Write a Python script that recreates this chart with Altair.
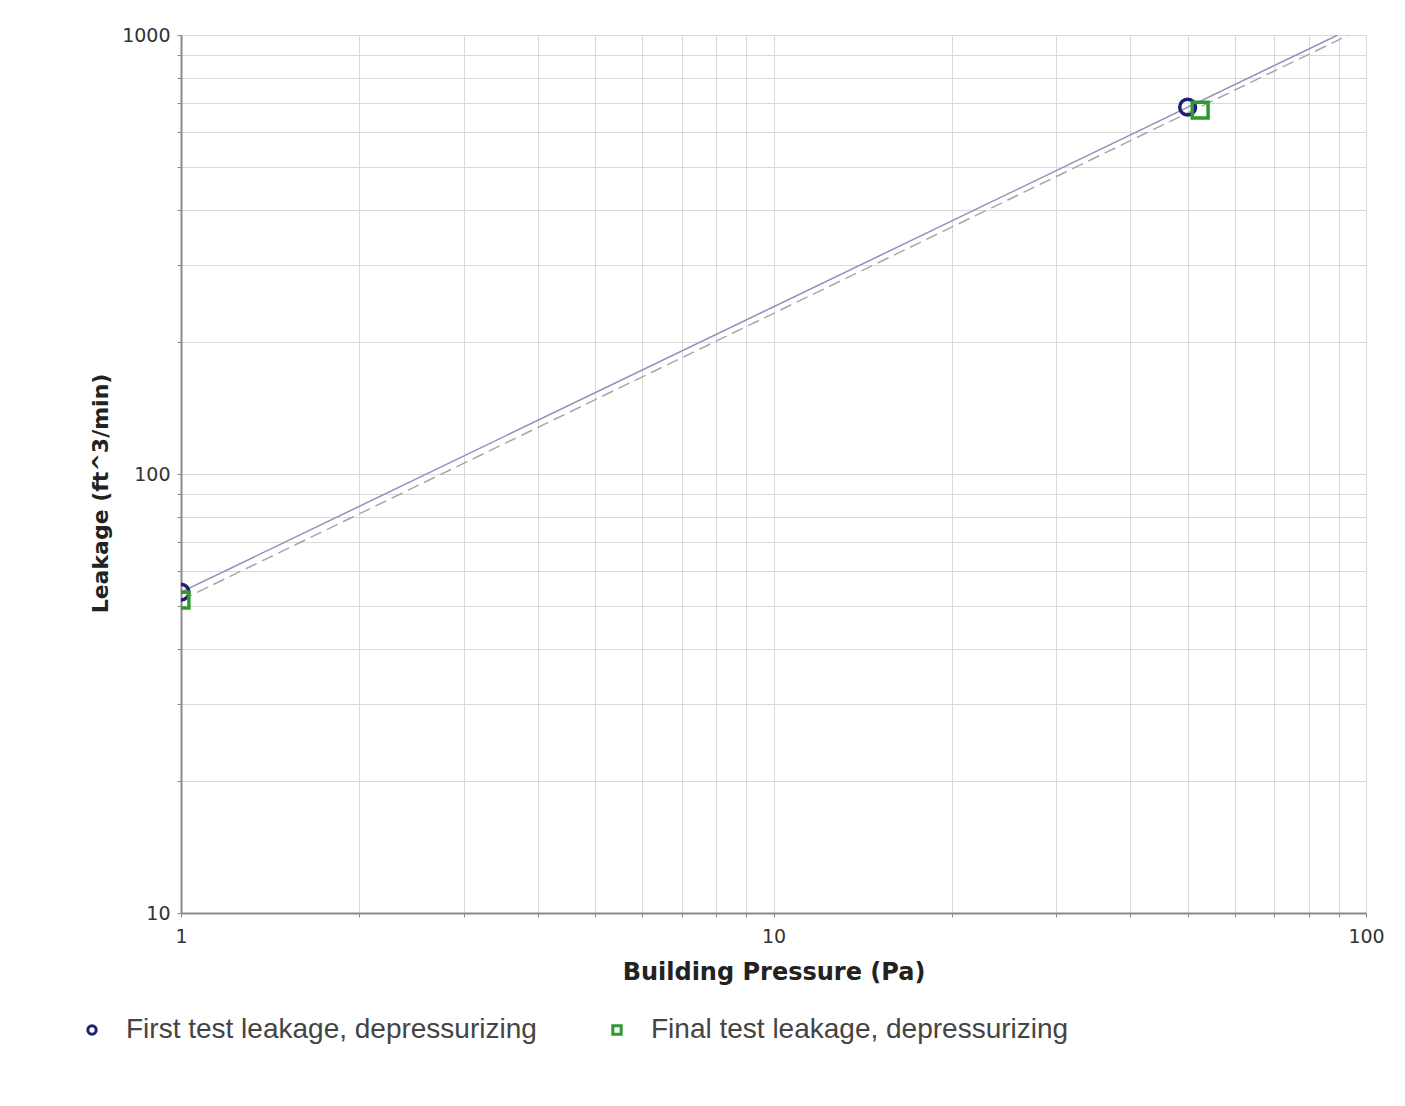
import altair as alt
import pandas as pd

# ---- data ----
series_names = ["First test leakage, depressurizing", "Final test leakage, depressurizing"]
first_pressure = [1, 50]
first_leakage = [53.8, 685]
final_pressure = [1, 52.5]
final_leakage = [51.6, 674]
first_fit_pressure = [1, 89.6]
first_fit_leakage = [53.8, 1000]
final_fit_pressure = [1, 93.5]
final_fit_leakage = [51.6, 1000]

x_grid = [1, 2, 3, 4, 5, 6, 7, 8, 9, 10, 20, 30, 40, 50, 60, 70, 80, 90, 100]
y_grid = [10, 20, 30, 40, 50, 60, 70, 80, 90, 100, 200, 300, 400, 500, 600, 700, 800, 900, 1000]

colors = ["#1f1f7a", "#2e9a2e"]
shapes = ["circle", "square"]

points = pd.DataFrame({
    "pressure": first_pressure + final_pressure,
    "leakage": first_leakage + final_leakage,
    "series": [series_names[0]] * len(first_pressure) + [series_names[1]] * len(final_pressure),
})
fit_first = pd.DataFrame({"pressure": first_fit_pressure, "leakage": first_fit_leakage})
fit_final = pd.DataFrame({"pressure": final_fit_pressure, "leakage": final_fit_leakage})

xscale = alt.Scale(type="log", domain=[1, 100], nice=False)
yscale = alt.Scale(type="log", domain=[10, 1000], nice=False)

xaxis = alt.Axis(
    title="Building Pressure (Pa)", values=x_grid, format="d",
    labelExpr="(datum.value == 1 || datum.value == 10 || datum.value == 100) ? datum.label : ''",
    grid=True, gridColor="#d9d9d9", gridWidth=1,
    domainColor="#8a8a8a", domainWidth=2, tickColor="#8a8a8a", tickSize=4,
    labelFont="DejaVu Sans", labelFontSize=19, labelColor="#333333", labelPadding=10,
    labelFlush=False, labelOverlap=False,
    titleFont="DejaVu Sans", titleFontSize=24, titleFontWeight="bold", titleColor="#222222",
    titlePadding=14,
)
yaxis = alt.Axis(
    title="Leakage (ft^3/min)", values=y_grid, format="d",
    labelExpr="(datum.value == 10 || datum.value == 100 || datum.value == 1000) ? datum.label : ''",
    grid=True, gridColor="#d9d9d9", gridWidth=1,
    domainColor="#8a8a8a", domainWidth=2, tickColor="#8a8a8a", tickSize=4,
    labelFont="DejaVu Sans", labelFontSize=19, labelColor="#333333", labelPadding=7,
    labelFlush=False, labelOverlap=False,
    titleFont="DejaVu Sans", titleFontSize=22, titleFontWeight="bold", titleColor="#222222",
    titlePadding=9, titleY=458,
)

line_first = alt.Chart(fit_first).mark_line(color="#8f92bd", strokeWidth=1.5, clip=True).encode(
    x=alt.X("pressure:Q", scale=xscale, axis=xaxis),
    y=alt.Y("leakage:Q", scale=yscale, axis=yaxis),
)
line_final = alt.Chart(fit_final).mark_line(color="#a3aaa3", strokeWidth=1.5, strokeDash=[12, 6], clip=True).encode(
    x=alt.X("pressure:Q", scale=xscale),
    y=alt.Y("leakage:Q", scale=yscale),
)

legend = alt.Legend(
    title=None, orient="none", legendX=-103, legendY=981, direction="horizontal", columns=2,
    labelFont="Liberation Sans", labelFontSize=28, labelColor="#444444", labelLimit=600,
    symbolSize=70, symbolStrokeWidth=3, labelOffset=20, columnPadding=66,
)
pts = alt.Chart(points).mark_point(filled=False, strokeWidth=3.5, size=250, clip=True, opacity=1).encode(
    x=alt.X("pressure:Q", scale=xscale),
    y=alt.Y("leakage:Q", scale=yscale),
    color=alt.Color("series:N", scale=alt.Scale(domain=series_names, range=colors), legend=legend),
    shape=alt.Shape("series:N", scale=alt.Scale(domain=series_names, range=shapes), legend=legend),
)

chart = alt.layer(line_first, line_final, pts).properties(
    width=1185, height=878,
    autosize=alt.AutoSizeParams(type="none"),
    padding={"left": 173, "top": 27, "right": 30, "bottom": 180},
).configure_view(stroke=None).configure(background="white")

chart.save("out.html", embed_options={"renderer": "svg", "actions": False})
